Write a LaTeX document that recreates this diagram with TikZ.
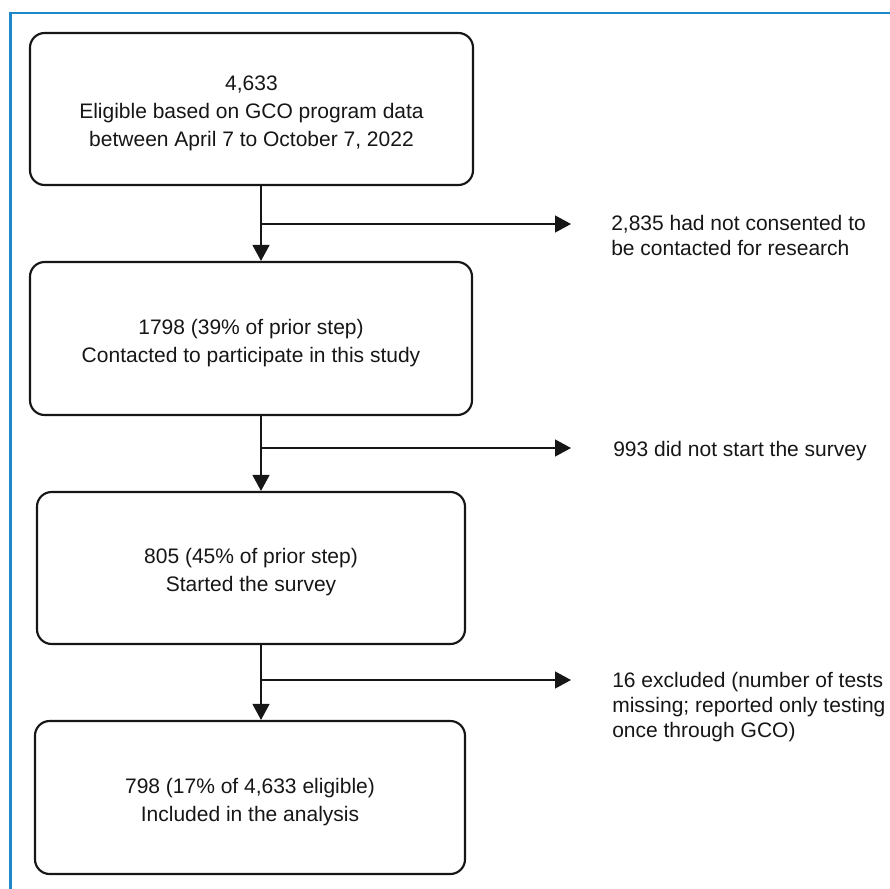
\documentclass[tikz,border=0pt]{standalone}
\usepackage{fontspec}
\setmainfont{Liberation Sans}
\usetikzlibrary{arrows.meta}
\definecolor{frameblue}{RGB}{30,136,200}
\definecolor{inkgray}{RGB}{22,22,22}
\def\px{0.75pt}
\begin{document}
\begin{tikzpicture}[x=0.75pt,y=-0.75pt,
    stepbox/.style={draw=inkgray, line width=1.6pt, rounded corners=11pt, align=center,
        text=inkgray, font=\fontsize{15.75}{21}\selectfont, inner sep=0pt},
    note/.style={align=left, text=inkgray, font=\fontsize{15.75}{18.9}\selectfont, inner sep=0pt},
    arr/.style={draw=inkgray, line width=1pt, -{Triangle[length=16*\px, width=17*\px]}},
    line/.style={draw=inkgray, line width=1pt}]
    \useasboundingbox (0,0) rectangle (890,889);
    \draw[frameblue, line width=1.8pt] (10.5,889) -- (10.5,13) -- (890,13);  % blue frame

    % main steps
    \node[stepbox, minimum width={443*\px}, minimum height={152*\px}] (box1) at (251.5,109)
        {\rule{0pt}{18pt}4,633\\Eligible based on GCO program data\\between April 7 to October 7, 2022};
    \node[stepbox, minimum width={442*\px}, minimum height={153*\px}] (box2) at (251,338.5)
        {\rule{0pt}{18pt}1798 (39\% of prior step)\\Contacted to participate in this study};
    \node[stepbox, minimum width={428*\px}, minimum height={152*\px}] (box3) at (251,568)
        {\rule{0pt}{18pt}805 (45\% of prior step)\\Started the survey};
    \node[stepbox, minimum width={430*\px}, minimum height={153*\px}] (box4) at (250,797.5)
        {\rule{0pt}{18pt}798 (17\% of 4,633 eligible)\\Included in the analysis};

    % excluded
    \node[note, anchor=north west] (note1) at (611,215) {2,835 had not consented to\\be contacted for research};
    \node[note, anchor=north west] (note2) at (613,441) {993 did not start the survey};
    \node[note, anchor=north west] (note3) at (612,672) {16 excluded (number of tests\\missing; reported only testing\\once through GCO)};

    \coordinate (j1) at (261,224);
    \coordinate (j2) at (261,448);
    \coordinate (j3) at (261,680);
    \coordinate (e1) at (571,224);
    \coordinate (e2) at (571,448);
    \coordinate (e3) at (571,680);

    \draw[arr] (box1.south -| j1) -- (box2.north -| j1);
    \draw[arr] (box2.south -| j2) -- (box3.north -| j2);
    \draw[arr] (box3.south -| j3) -- (box4.north -| j3);
    \draw[arr] (j1) -- (e1);
    \draw[arr] (j2) -- (e2);
    \draw[arr] (j3) -- (e3);
\end{tikzpicture}
\end{document}
